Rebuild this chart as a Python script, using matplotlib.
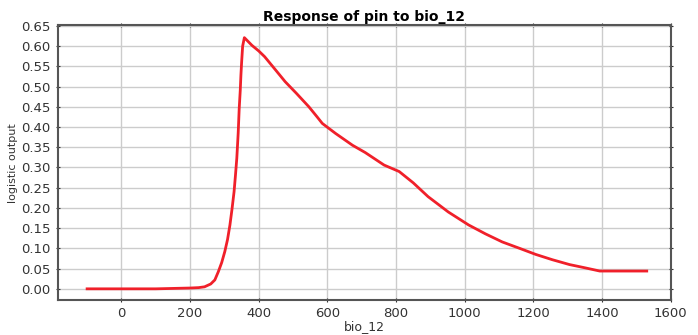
import matplotlib.pyplot as plt

# response curve
bio_12 = [-100, 0, 100, 200, 225, 242, 260, 272, 282, 292, 301, 309, 316,
          322, 328, 332, 336, 340, 343, 346, 348, 350, 353, 358, 365, 380,
          400, 417, 450, 477, 510, 546, 570, 585, 624, 673, 710, 765, 809,
          850, 893, 952, 1011, 1060, 1109, 1160, 1207, 1255, 1305, 1350,
          1393, 1530]
logistic = [0.0, 0.0, 0.0, 0.002, 0.003, 0.005, 0.012, 0.022, 0.042, 0.065,
            0.092, 0.122, 0.158, 0.197, 0.24, 0.28, 0.323, 0.385, 0.446,
            0.49, 0.529, 0.56, 0.6, 0.621, 0.615, 0.602, 0.588, 0.574, 0.54,
            0.512, 0.483, 0.45, 0.425, 0.409, 0.384, 0.355, 0.337, 0.306,
            0.29, 0.262, 0.228, 0.19, 0.158, 0.136, 0.116, 0.1, 0.085,
            0.072, 0.06, 0.052, 0.044, 0.044]

x_ticks = [0, 200, 400, 600, 800, 1000, 1200, 1400, 1600]
y_ticks = [i * 0.05 for i in range(14)]

fig = plt.figure(figsize=(6.98, 3.35), dpi=100)
ax = fig.add_axes([0.083, 0.104, 0.878, 0.821])

ax.plot(bio_12, logistic, color='#f0202a', lw=2)

ax.set_xlim(-185, 1600)
ax.set_ylim(-0.028, 0.652)
ax.set_xticks(x_ticks)
ax.set_yticks(y_ticks)
ax.set_yticklabels(['%.2f' % v for v in y_ticks])
ax.grid(True, color='#cccccc', lw=1)
ax.set_axisbelow(True)

for s in ax.spines.values():
    s.set_color('#555555')
    s.set_linewidth(1.5)

ax.tick_params(axis='both', labelsize=9.5, colors='#333333', length=3,
               top=True, right=True, direction='inout')
ax.tick_params(axis='y', pad=4)

ax.set_title('Response of pin to bio_12', fontsize=10, fontweight='bold', pad=3)
ax.set_xlabel('bio_12', fontsize=9, color='#333333', labelpad=0)
ax.set_ylabel('logistic output', fontsize=8, color='#333333', labelpad=2)

fig.savefig('out.png', dpi=100)
